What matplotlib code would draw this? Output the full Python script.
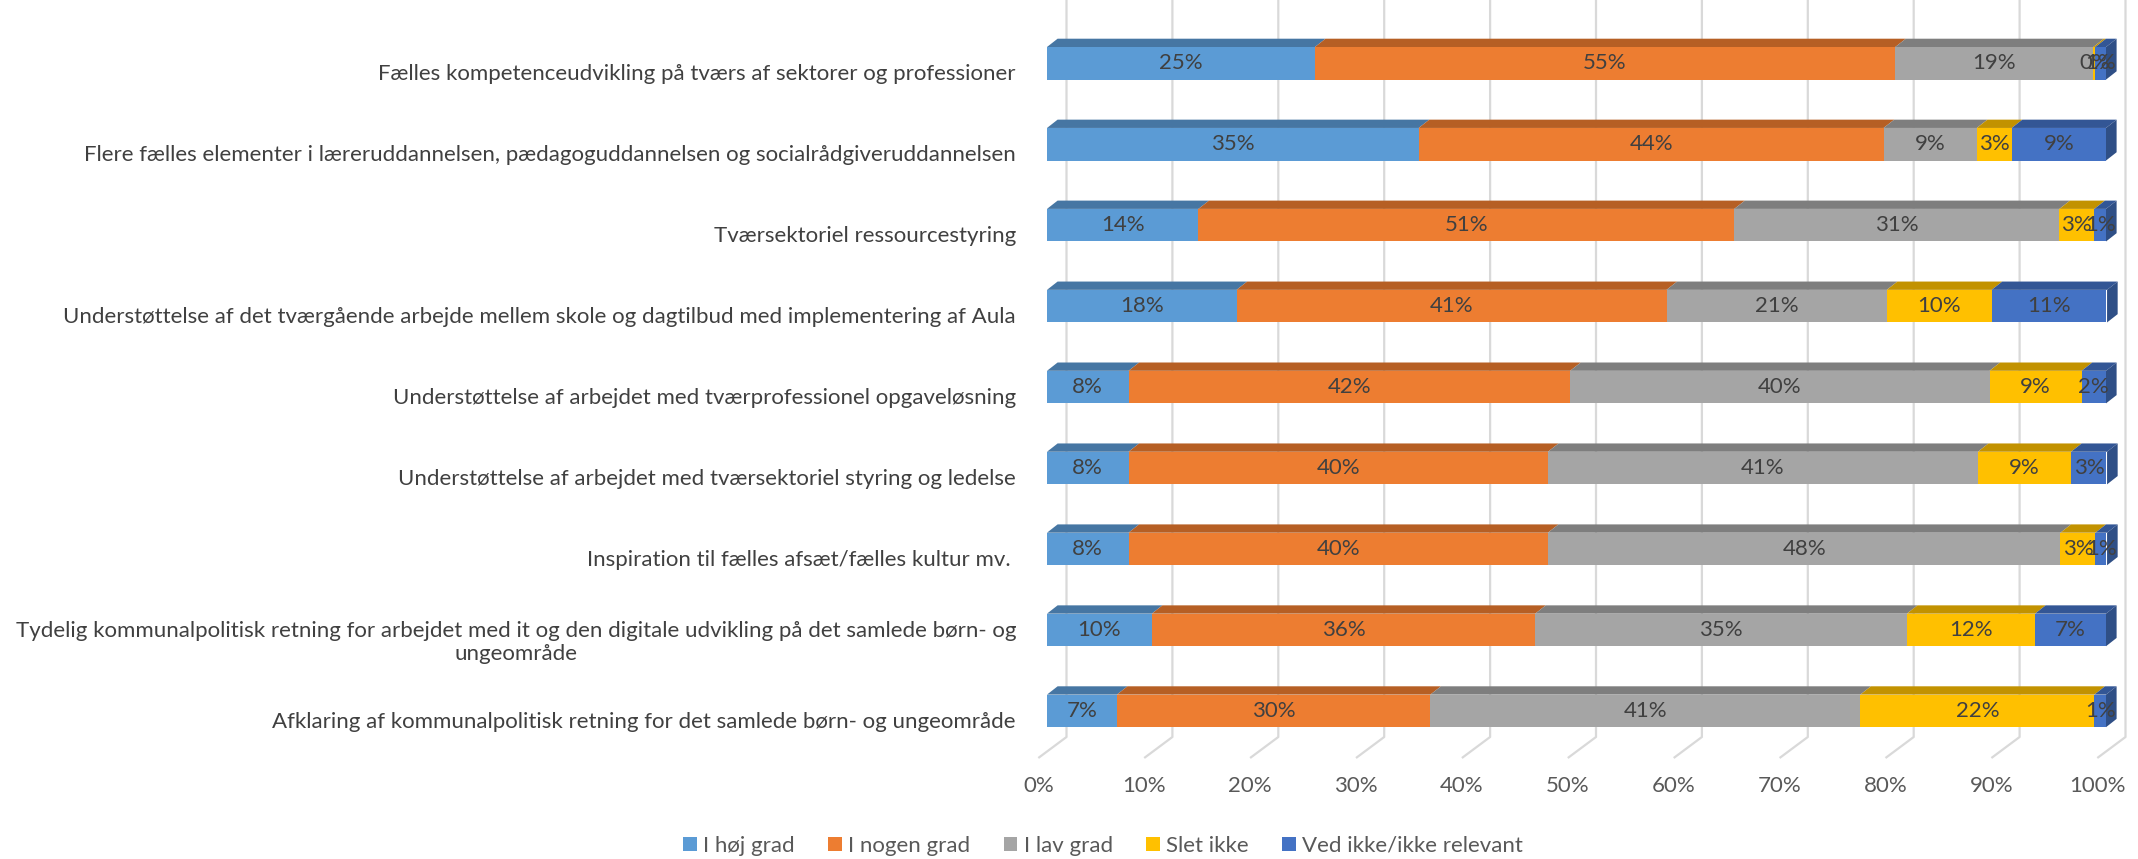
import numpy as np
import matplotlib.pyplot as plt
import matplotlib.transforms as mtransforms
from matplotlib.patches import Polygon

categories = [
    'Fælles kompetenceudvikling på tværs af sektorer og professioner',
    'Flere fælles elementer i læreruddannelsen, pædagoguddannelsen og socialrådgiveruddannelsen',
    'Tværsektoriel ressourcestyring',
    'Understøttelse af det tværgående arbejde mellem skole og dagtilbud med implementering af Aula',
    'Understøttelse af arbejdet med tværprofessionel opgaveløsning',
    'Understøttelse af arbejdet med tværsektoriel styring og ledelse',
    'Inspiration til fælles afsæt/fælles kultur mv. ',
    'Tydelig kommunalpolitisk retning for arbejdet med it og den digitale udvikling på det samlede børn- og\nungeområde',
    'Afklaring af kommunalpolitisk retning for det samlede børn- og ungeområde',
]
series_names = ['I høj grad', 'I nogen grad', 'I lav grad', 'Slet ikke', 'Ved ikke/ikke relevant']
hoej_grad = [25.3, 35.1, 14.3, 17.9, 7.7, 7.7, 7.7, 9.9, 6.6]
nogen_grad = [54.8, 43.9, 50.6, 40.6, 41.7, 39.6, 39.6, 36.2, 29.6]
lav_grad = [18.7, 8.8, 30.7, 20.8, 39.6, 40.6, 48.4, 35.1, 40.6]
slet_ikke = [0.2, 3.3, 3.3, 9.9, 8.7, 8.8, 3.3, 12.1, 22.1]
ved_ikke = [1.0, 8.9, 1.1, 10.9, 2.3, 3.4, 1.1, 6.7, 1.1]
xticks = list(range(0, 101, 10))
xticklabels = [f'{t}%' for t in xticks]

front_colors = ['#5B9BD5', '#ED7D31', '#A5A5A5', '#FFC000', '#4472C4']
top_colors = ['#4676A3', '#B65F24', '#7E7E7E', '#C29200', '#335695']
side_colors = ['#3A628A', '#994F1E', '#6A6A6A', '#A37B00', '#2F4F86']

# layout in pixels of the 2138x859 picture
W, H, DPI = 2138, 859, 100
X0, X100 = 1047, 2106
FLOOR_Y, BACK_BOTTOM = 758, 737
FIRST_C, PITCH = 63.3, 80.95
BAR_H = 32.6
DEPTH_DX, DEPTH_DY = 10.6, 8.3
GRID_DX, FLOOR_DX = 19.5, -8.7


def main():
    plt.rcParams['font.family'] = ['Lato', 'DejaVu Sans']
    fs = 16

    fig = plt.figure(figsize=(W / DPI, H / DPI), dpi=DPI)
    ax = fig.add_axes([X0 / W, 1 - FLOOR_Y / H, (X100 - X0) / W, FLOOR_Y / H])
    ytop = -FIRST_C / PITCH
    ybot = (FLOOR_Y - FIRST_C) / PITCH
    ax.set_xlim(0, 100)
    ax.set_ylim(ybot, ytop)
    for s in ax.spines.values():
        s.set_visible(False)

    px = 100 / (X100 - X0)
    py = 1 / PITCH
    h = BAR_H * py
    ddx, ddy = DEPTH_DX * px, DEPTH_DY * py

    # back wall + floor gridlines
    yback = (BACK_BOTTOM - FIRST_C) / PITCH
    for v in xticks:
        ax.plot([v + GRID_DX * px, v + GRID_DX * px, v + FLOOR_DX * px],
                [ytop, yback, ybot], color='#D9D9D9', lw=1.6,
                zorder=0, clip_on=False, solid_capstyle='butt')

    y = np.arange(len(categories))
    data = [hoej_grad, nogen_grad, lav_grad, slet_ikke, ved_ikke]
    left = np.zeros(len(categories))
    handles = []
    for k, vals in enumerate(data):
        vals = np.array(vals)
        b = ax.barh(y, vals, left=left, height=h, color=front_colors[k],
                    label=series_names[k], zorder=2)
        handles.append(b)
        for i in range(len(y)):
            l, w = left[i], vals[i]
            yt = y[i] - h / 2
            ax.add_patch(Polygon([(l, yt), (l + w, yt), (l + w + ddx, yt - ddy),
                                  (l + ddx, yt - ddy)], closed=True,
                                 facecolor=top_colors[k], edgecolor='none',
                                 zorder=2, clip_on=False))
            ax.text(l + w / 2, y[i], f'{w:.0f}%', ha='center', va='center',
                    fontsize=fs, color='#404040', zorder=4)
        left = left + vals

    # right side face of each bar
    for i in range(len(y)):
        r = left[i]
        yt, yb = y[i] - h / 2, y[i] + h / 2
        ax.add_patch(Polygon([(r, yt), (r, yb), (r + ddx, yb - ddy), (r + ddx, yt - ddy)],
                             closed=True, facecolor=side_colors[-1], edgecolor='none',
                             zorder=3, clip_on=False))

    ax.set_yticks(y)
    ax.set_yticklabels(categories, fontsize=fs, color='#404040')
    ax.tick_params(axis='y', length=0, pad=31 * 0.72)
    down = mtransforms.ScaledTranslation(0, -9 / DPI, fig.dpi_scale_trans)
    for t in ax.get_yticklabels():
        t.set_multialignment('center')
        t.set_transform(t.get_transform() + down)

    ax.set_xticks(xticks)
    ax.set_xticklabels(xticklabels, fontsize=fs, color='#595959')
    ax.tick_params(axis='x', length=0, pad=18 * 0.72)
    shift = mtransforms.ScaledTranslation(FLOOR_DX / DPI, 0, fig.dpi_scale_trans)
    for t in ax.get_xticklabels():
        t.set_transform(t.get_transform() + shift)

    fig.legend(handles=handles, labels=series_names, loc='center',
               bbox_to_anchor=(0.516, 1 - 846 / H), ncol=5, frameon=False,
               fontsize=fs, labelcolor='#595959', handlelength=0.6,
               handleheight=0.6, handletextpad=0.3, columnspacing=1.5)

    fig.savefig('out.png', dpi=DPI)


if __name__ == '__main__':
    main()
